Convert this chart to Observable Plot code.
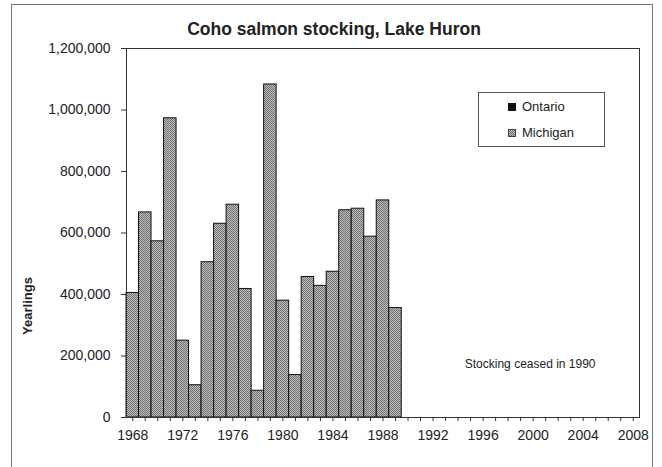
<!DOCTYPE html>
<html>
<head>
<meta charset="utf-8">
<script src="https://cdn.jsdelivr.net/npm/d3@7"></script>
<script src="https://cdn.jsdelivr.net/npm/@observablehq/plot@0.6"></script>
<style>
  html, body { margin: 0; padding: 0; background: #fff; }
  #wrap { position: relative; width: 662px; height: 467px; overflow: hidden; font-family: "Liberation Sans", Arial, sans-serif; }
  #outer { position: absolute; left: 11px; top: 4px; width: 642px; height: 520px; border: 1px solid #777; box-sizing: border-box; }
  #legend { position: absolute; left: 478px; top: 92px; width: 127px; height: 55px; border: 1px solid #555; box-sizing: border-box; background: #fff; font-size: 13px; color: #222; }
  #legend .row { position: absolute; left: 29px; display: flex; align-items: center; }
  #legend .sw { width: 8px; height: 8px; margin-right: 6px; box-sizing: border-box; }
  #chart { position: absolute; left: 0; top: 0; }
</style>
</head>
<body>
<div id="wrap">
  <div id="outer"></div>
  <div id="chart"></div>
  <div id="legend">
    <div class="row" style="top:6px"><span class="sw" style="background:#111"></span>Ontario</div>
    <div class="row" style="top:32px"><span class="sw" style="background: repeating-conic-gradient(#6e6e6e 0 25%, #c0c0c0 0 50%) 0 0/2px 2px; border:1px solid #444"></span>Michigan</div>
  </div>
</div>
<script>
const years = [1968,1969,1970,1971,1972,1973,1974,1975,1976,1977,1978,1979,1980,1981,1982,1983,1984,1985,1986,1987,1988,1989,1990,1991,1992,1993,1994,1995,1996,1997,1998,1999,2000,2001,2002,2003,2004,2005,2006,2007,2008];
const michigan = [405000,667000,573000,973000,250000,105000,505000,630000,692000,418000,87000,1083000,380000,138000,457000,428000,474000,674000,679000,588000,706000,356000,0,0,0,0,0,0,0,0,0,0,0,0,0,0,0,0,0,0,0];
const ontario = [0,0,0,0,0,0,0,0,0,0,0,0,0,0,0,0,0,0,0,0,0,0,0,0,0,0,0,0,0,0,0,0,0,0,0,0,0,0,0,0,0];
const labelYears = [1968,1972,1976,1980,1984,1988,1992,1996,2000,2004,2008];
const yTicks = [0,200000,400000,600000,800000,1000000,1200000];
const seriesNames = ["Ontario","Michigan"];
const title = "Coho salmon stocking, Lake Huron";
const yLabel = "Yearlings";
const note = "Stocking ceased in 1990";
const noteYear = 2000, noteValue = 175000;

const data = [];
years.forEach((yr, i) => {
  data.push({year: yr, series: "Ontario", value: ontario[i]});
  data.push({year: yr, series: "Michigan", value: michigan[i]});
});

const font = "Liberation Sans, Arial, sans-serif";
const svg = Plot.plot({
  width: 662, height: 467,
  marginLeft: 126, marginRight: 23, marginTop: 48, marginBottom: 50,
  style: {fontFamily: font, color: "#222", background: "transparent"},
  x: {type: "band", domain: years, padding: 0, round: false},
  y: {domain: [0, 1200000]},
  color: {domain: seriesNames, range: ["#111", "url(#stipple)"]},
  marks: [
    Plot.barY(data.filter(d => d.value > 0), {x: "year", y: "value", fill: "series", stroke: "#111", strokeWidth: 1}),
    Plot.axisY({ticks: yTicks, tickFormat: d3.format(","), tickSize: 5, tickPadding: 11, fontSize: 14, label: null, stroke: "#333"}),
    Plot.axisX({ticks: years, tickSize: 4, tickPadding: 9, fontSize: 14, label: null, stroke: "#333",
      tickFormat: d => labelYears.includes(d) ? String(d) : ""}),
    Plot.frame({stroke: "#333"}),
    Plot.text([title], {frameAnchor: "top", dx: -49, dy: -19, lineAnchor: "middle", textAnchor: "middle", fontSize: 17.5, fontWeight: "bold", fill: "#222"}),
    Plot.text([yLabel], {frameAnchor: "left", dx: -99, dy: 73, rotate: -90, textAnchor: "middle", lineAnchor: "middle", fontSize: 13, fontWeight: "bold", fill: "#222"}),
    Plot.text([note], {x: [noteYear], y: [noteValue], dx: -3, fontSize: 12, fill: "#222"})
  ]
});

const defs = d3.select(svg).insert("defs", ":first-child");
const pat = defs.append("pattern").attr("id", "stipple").attr("patternUnits", "userSpaceOnUse").attr("width", 2).attr("height", 2);
pat.append("rect").attr("width", 2).attr("height", 2).attr("fill", "#c0c0c0");
pat.append("rect").attr("x", 0).attr("y", 0).attr("width", 1).attr("height", 1).attr("fill", "#6e6e6e");
pat.append("rect").attr("x", 1).attr("y", 1).attr("width", 1).attr("height", 1).attr("fill", "#6e6e6e");

document.getElementById("chart").appendChild(svg);
</script>
</body>
</html>
